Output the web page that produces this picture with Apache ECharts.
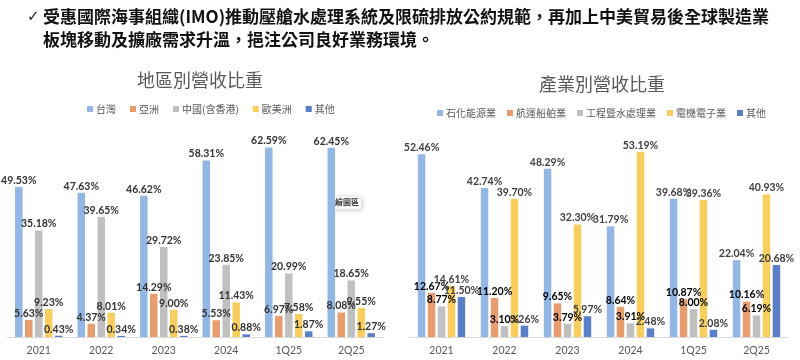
<!DOCTYPE html>
<html>
<head>
<meta charset="utf-8">
<script src="https://cdn.jsdelivr.net/npm/echarts@6/dist/echarts.min.js"></script>
<style>
html,body{margin:0;padding:0;background:#fff;}
#c{width:800px;height:360px;}
</style>
</head>
<body>
<div id="c"></div>
<script>
// ---- data ----
const categories = ['2021', '2022', '2023', '2024', '1Q25', '2Q25'];

const regionNames = ['台灣', '亞洲', '中國(含香港)', '歐美洲', '其他'];
const regionTaiwan = [49.53, 47.63, 46.62, 58.31, 62.59, 62.45];
const regionAsia = [5.63, 4.37, 14.29, 5.53, 6.97, 8.08];
const regionChina = [35.18, 39.65, 29.72, 23.85, 20.99, 18.65];
const regionEuroAm = [9.23, 8.01, 9.00, 11.43, 7.58, 9.55];
const regionOther = [0.43, 0.34, 0.38, 0.88, 1.87, 1.27];

const industryNames = ['石化能源業', '航運船舶業', '工程暨水處理業', '電機電子業', '其他'];
const indPetro = [52.46, 42.74, 48.29, 31.79, 39.68, 22.04];
const indShipping = [12.67, 11.20, 9.65, 8.64, 10.87, 10.16];
const indWater = [8.77, 3.10, 3.79, 3.91, 8.00, 6.19];
const indElectric = [14.61, 39.70, 32.30, 53.19, 39.36, 40.93];
const indOther = [11.50, 3.26, 5.97, 2.48, 2.08, 20.68];

const headerLine1 = '受惠國際海事組織(IMO)推動壓艙水處理系統及限硫排放公約規範，再加上中美貿易後全球製造業';
const headerLine2 = '板塊移動及擴廠需求升溫，挹注公司良好業務環境。';
const titleLeft = '地區別營收比重';
const titleRight = '產業別營收比重';

// ---- styles ----
const colors = ['#92B7E4', '#E89D6F', '#C0C0C0', '#F8CE5E', '#5B7FC6'];
const cjk = '"Noto Sans CJK TC", "Noto Sans", sans-serif';
const numFont = 'Lato, "Noto Sans", sans-serif';

function mkSeries(name, data, idx, gridIdx, labelColor) {
  return {
    type: 'bar',
    name: name,
    xAxisIndex: gridIdx,
    yAxisIndex: gridIdx,
    data: data,
    barWidth: 7.5,
    barGap: '33%',
    itemStyle: { color: colors[idx] },
    label: {
      show: true,
      position: 'top',
      distance: 1,
      fontFamily: numFont,
      fontWeight: 'bold',
      fontSize: 10.5,
      color: labelColor,
      formatter: p => Number(p.value).toFixed(2) + '%'
    },
    emphasis: { disabled: true }
  };
}

const chart = echarts.init(document.getElementById('c'), null, { renderer: 'canvas' });

const axisX = (gi) => ({
  type: 'category',
  gridIndex: gi,
  data: categories,
  axisLine: { lineStyle: { color: '#D9D9D9', width: 1 } },
  axisTick: { show: false },
  axisLabel: { color: '#595959', fontSize: 10.5, fontFamily: numFont, margin: 8 }
});
const axisY = (gi, max) => ({
  type: 'value',
  gridIndex: gi,
  min: 0,
  max: max,
  show: false,
  splitLine: { show: false }
});

const option = {
  animation: false,
  backgroundColor: '#ffffff',
  title: [
    { text: titleLeft, left: 195, top: 66, textAlign: 'center',
      textStyle: { fontFamily: cjk, fontSize: 18, fontWeight: 'normal', color: '#595959' } },
    { text: titleRight, left: 597, top: 70, textAlign: 'center',
      textStyle: { fontFamily: cjk, fontSize: 18, fontWeight: 'normal', color: '#595959' } }
  ],
  legend: [
    { data: regionNames, left: 82, top: 99, itemWidth: 6, itemHeight: 6, itemGap: 14,
      icon: 'rect', textStyle: { fontFamily: cjk, fontSize: 10, color: '#595959', padding: [0, 0, 0, -2] } },
    { data: industryNames, left: 432, top: 103, itemWidth: 6, itemHeight: 6, itemGap: 11,
      icon: 'rect', textStyle: { fontFamily: cjk, fontSize: 10, color: '#595959', padding: [0, 0, 0, -2] } }
  ],
  grid: [
    { left: 7.5, width: 375, top: 125, height: 212 },
    { left: 410, width: 378, top: 128, height: 209 }
  ],
  xAxis: [axisX(0), axisX(1)],
  yAxis: [axisY(0, 70), axisY(1, 60)],
  series: [
    mkSeries(regionNames[0], regionTaiwan, 0, 0, '#333333'),
    mkSeries(regionNames[1], regionAsia, 1, 0, '#333333'),
    mkSeries(regionNames[2], regionChina, 2, 0, '#333333'),
    mkSeries(regionNames[3], regionEuroAm, 3, 0, '#333333'),
    mkSeries(regionNames[4], regionOther, 4, 0, '#333333'),
    mkSeries(industryNames[0], indPetro, 0, 1, '#404040'),
    mkSeries(industryNames[1], indShipping, 1, 1, '#000000'),
    mkSeries(industryNames[2], indWater, 2, 1, '#000000'),
    mkSeries(industryNames[3], indElectric, 3, 1, '#404040'),
    mkSeries(industryNames[4], indOther, 4, 1, '#404040')
  ],
  graphic: [
    { type: 'text', left: 27, top: 10,
      style: { text: '✓', font: '15px "DejaVu Sans", sans-serif', fill: '#222' } },
    { type: 'text', left: 43, top: 8,
      style: { text: headerLine1, font: 'bold 17px ' + cjk, fill: '#111' } },
    { type: 'text', left: 43, top: 31,
      style: { text: headerLine2, font: 'bold 17px ' + cjk, fill: '#111' } },
    { type: 'rect', left: 333, top: 196,
      shape: { width: 28, height: 13, r: 1 },
      style: { fill: '#ffffff', stroke: '#e6e6e6', lineWidth: 0.5,
               shadowBlur: 4, shadowColor: 'rgba(0,0,0,0.2)', shadowOffsetX: 1, shadowOffsetY: 1 } },
    { type: 'text', left: 335, top: 198,
      style: { text: '繪圖區', font: 'bold 8px ' + cjk, fill: '#333' } }
  ]
};

chart.setOption(option);
</script>
</body>
</html>
